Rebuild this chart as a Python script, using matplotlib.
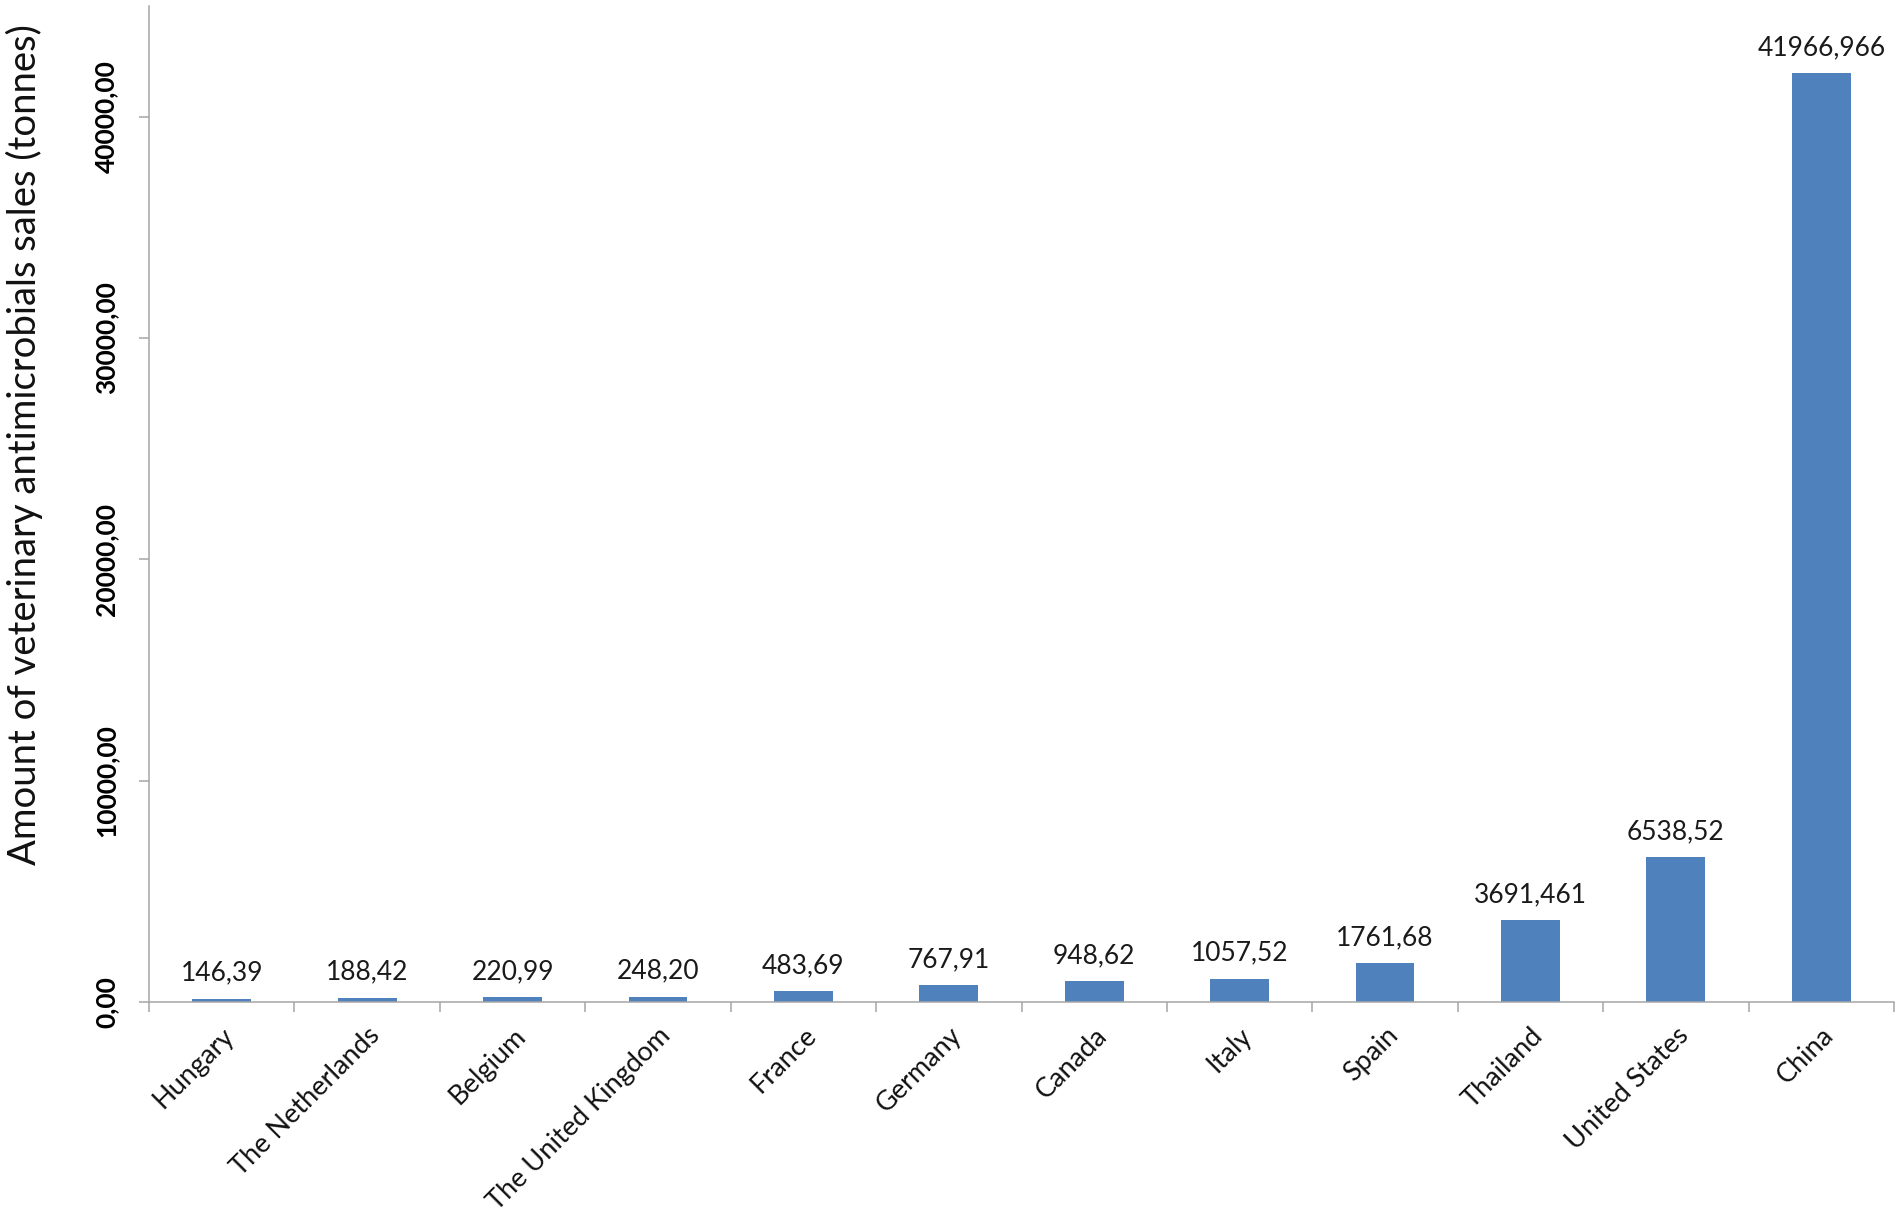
import matplotlib
matplotlib.use("Agg")
import matplotlib.pyplot as plt
import numpy as np

countries = ["Hungary", "The Netherlands", "Belgium", "The United Kingdom", "France",
             "Germany", "Canada", "Italy", "Spain", "Thailand", "United States", "China"]
sales = [146.39, 188.42, 220.99, 248.20, 483.69, 767.91, 948.62, 1057.52,
         1761.68, 3691.461, 6538.52, 41966.966]
value_labels = ["146,39", "188,42", "220,99", "248,20", "483,69", "767,91", "948,62",
                "1057,52", "1761,68", "3691,461", "6538,52", "41966,966"]
yticks = [0, 10000, 20000, 30000, 40000]
ytick_labels = ["0,00", "10000,00", "20000,00", "30000,00", "40000,00"]

plt.rcParams['font.family'] = ['Lato', 'DejaVu Sans']
axis_col = "#A6A6A6"
bar_col = "#4F81BD"

fig = plt.figure(figsize=(19.01, 12.17), dpi=100)
ax = fig.add_axes([149/1901, 1 - 1002/1217, (1894-149)/1901, (1002-6)/1217])

x = np.arange(len(countries))
ax.bar(x, sales, width=0.405, color=bar_col)

for xi, v, lab in zip(x, sales, value_labels):
    ax.annotate(lab, (xi, v), xytext=(0, 13), textcoords="offset points",
                ha="center", va="baseline", fontsize=19, color="#1a1a1a")

ax.set_xlim(-0.5, len(countries) - 0.5)
ax.set_ylim(0, 45000)

ax.set_yticks(yticks)
ax.set_yticklabels(ytick_labels, rotation=90, va="center", fontweight="bold", fontsize=19)
ax.tick_params(axis="y", length=7, width=1.1, color=axis_col, pad=15)

ax.set_xticks(x)
ax.set_xticklabels(countries, rotation=45, ha="right", va="top",
                   rotation_mode="anchor", fontsize=19.5, color="#111111")
ax.tick_params(axis="x", which="major", length=0, pad=15)
ax.set_xticks(np.arange(-0.5, len(countries)), minor=True)
ax.tick_params(axis="x", which="minor", length=7, width=1.1, color=axis_col)

for s in ["top", "right"]:
    ax.spines[s].set_visible(False)
for s in ["left", "bottom"]:
    ax.spines[s].set_color(axis_col)
    ax.spines[s].set_linewidth(1.1)

fig.text(24/1901, 1 - 445/1217, "Amount of veterinary antimicrobials sales (tonnes)",
         rotation=90, ha="center", va="center", fontsize=27.5, color="#111111")

fig.savefig("out.png", dpi=100)
